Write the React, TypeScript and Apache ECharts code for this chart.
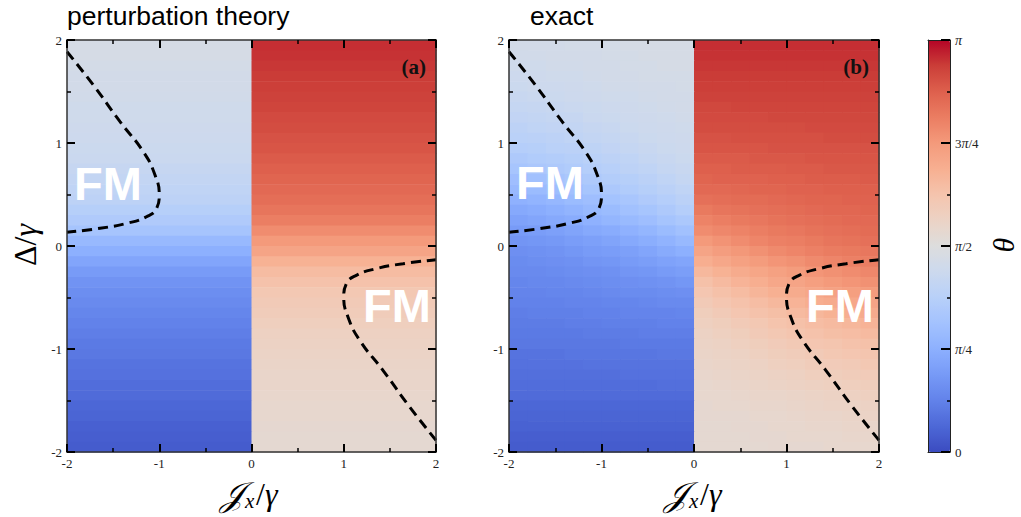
import React, { useEffect, useRef } from "react";
import * as echarts from "echarts";

// theta / pi, rows from top (y centre 1.95) to bottom (y centre -1.95)
const pertLeft = [
  0.47, 0.47, 0.465, 0.46, 0.46, 0.455, 0.45, 0.45, 0.445, 0.44,
  0.435, 0.43, 0.42, 0.41, 0.4, 0.39, 0.37, 0.35, 0.32, 0.28,
  0.25, 0.22, 0.19, 0.17, 0.155, 0.145, 0.135, 0.125, 0.115, 0.105,
  0.1, 0.09, 0.085, 0.075, 0.07, 0.06, 0.055, 0.045, 0.04, 0.035,
];
const pertRight = [
  0.955, 0.95, 0.945, 0.94, 0.935, 0.93, 0.925, 0.915, 0.91, 0.9,
  0.895, 0.885, 0.875, 0.865, 0.855, 0.845, 0.83, 0.81, 0.78, 0.75,
  0.72, 0.68, 0.65, 0.63, 0.61, 0.6, 0.59, 0.58, 0.57, 0.565,
  0.56, 0.555, 0.55, 0.55, 0.545, 0.54, 0.54, 0.535, 0.53, 0.53,
];
// exact: rows top->bottom, columns x from -2 to 0 (left) and 0 to 2 (right)
const exactLeft = [
  [0.46, 0.46, 0.46, 0.465, 0.465, 0.465, 0.47, 0.47, 0.47, 0.47],
  [0.455, 0.455, 0.46, 0.46, 0.46, 0.465, 0.465, 0.47, 0.47, 0.47],
  [0.45, 0.45, 0.455, 0.455, 0.46, 0.46, 0.465, 0.465, 0.47, 0.47],
  [0.44, 0.445, 0.45, 0.45, 0.455, 0.46, 0.46, 0.465, 0.465, 0.465],
  [0.435, 0.44, 0.44, 0.445, 0.45, 0.455, 0.455, 0.46, 0.46, 0.465],
  [0.425, 0.43, 0.435, 0.44, 0.445, 0.45, 0.45, 0.455, 0.46, 0.46],
  [0.415, 0.42, 0.425, 0.43, 0.435, 0.44, 0.445, 0.45, 0.455, 0.46],
  [0.405, 0.41, 0.415, 0.42, 0.43, 0.435, 0.44, 0.445, 0.45, 0.455],
  [0.39, 0.4, 0.405, 0.41, 0.42, 0.425, 0.435, 0.44, 0.445, 0.45],
  [0.38, 0.385, 0.39, 0.4, 0.41, 0.415, 0.425, 0.435, 0.44, 0.445],
  [0.365, 0.37, 0.38, 0.385, 0.395, 0.405, 0.415, 0.425, 0.435, 0.44],
  [0.345, 0.355, 0.36, 0.37, 0.38, 0.39, 0.4, 0.415, 0.425, 0.435],
  [0.325, 0.335, 0.345, 0.355, 0.365, 0.375, 0.39, 0.4, 0.415, 0.425],
  [0.3, 0.31, 0.32, 0.335, 0.345, 0.36, 0.37, 0.385, 0.4, 0.415],
  [0.28, 0.29, 0.3, 0.31, 0.325, 0.34, 0.355, 0.37, 0.385, 0.4],
  [0.255, 0.265, 0.275, 0.29, 0.3, 0.315, 0.33, 0.35, 0.365, 0.385],
  [0.23, 0.24, 0.25, 0.265, 0.28, 0.29, 0.31, 0.325, 0.345, 0.365],
  [0.21, 0.22, 0.23, 0.24, 0.255, 0.27, 0.285, 0.3, 0.32, 0.34],
  [0.19, 0.195, 0.205, 0.215, 0.23, 0.24, 0.255, 0.27, 0.29, 0.31],
  [0.175, 0.18, 0.185, 0.195, 0.205, 0.215, 0.23, 0.245, 0.26, 0.28],
  [0.16, 0.165, 0.17, 0.18, 0.19, 0.195, 0.205, 0.22, 0.235, 0.25],
  [0.15, 0.155, 0.16, 0.165, 0.175, 0.18, 0.19, 0.2, 0.21, 0.22],
  [0.145, 0.145, 0.15, 0.155, 0.16, 0.165, 0.175, 0.18, 0.19, 0.2],
  [0.135, 0.14, 0.14, 0.145, 0.15, 0.155, 0.16, 0.165, 0.17, 0.18],
  [0.13, 0.13, 0.135, 0.135, 0.14, 0.145, 0.15, 0.15, 0.155, 0.16],
  [0.125, 0.125, 0.125, 0.13, 0.13, 0.135, 0.135, 0.14, 0.145, 0.145],
  [0.115, 0.12, 0.12, 0.12, 0.125, 0.125, 0.13, 0.13, 0.13, 0.135],
  [0.11, 0.11, 0.11, 0.115, 0.115, 0.12, 0.12, 0.12, 0.125, 0.125],
  [0.105, 0.105, 0.105, 0.105, 0.11, 0.11, 0.11, 0.115, 0.115, 0.115],
  [0.1, 0.1, 0.1, 0.1, 0.1, 0.1, 0.105, 0.105, 0.105, 0.105],
  [0.09, 0.09, 0.09, 0.095, 0.095, 0.095, 0.095, 0.095, 0.1, 0.1],
  [0.085, 0.085, 0.085, 0.085, 0.09, 0.09, 0.09, 0.09, 0.09, 0.09],
  [0.08, 0.08, 0.08, 0.08, 0.08, 0.08, 0.085, 0.085, 0.085, 0.085],
  [0.075, 0.075, 0.075, 0.075, 0.075, 0.075, 0.075, 0.075, 0.08, 0.08],
  [0.07, 0.07, 0.07, 0.07, 0.07, 0.07, 0.07, 0.07, 0.07, 0.07],
  [0.06, 0.06, 0.06, 0.06, 0.06, 0.06, 0.06, 0.06, 0.06, 0.06],
  [0.055, 0.055, 0.055, 0.055, 0.055, 0.055, 0.055, 0.055, 0.055, 0.055],
  [0.05, 0.05, 0.05, 0.05, 0.05, 0.05, 0.05, 0.05, 0.05, 0.05],
  [0.04, 0.04, 0.04, 0.04, 0.04, 0.04, 0.04, 0.04, 0.04, 0.04],
  [0.035, 0.035, 0.035, 0.035, 0.035, 0.035, 0.035, 0.035, 0.035, 0.035],
];
const exactRight = [
  [0.955, 0.955, 0.955, 0.955, 0.955, 0.955, 0.955, 0.955, 0.955, 0.955],
  [0.95, 0.95, 0.95, 0.95, 0.95, 0.95, 0.95, 0.95, 0.95, 0.95],
  [0.945, 0.945, 0.945, 0.945, 0.945, 0.945, 0.945, 0.945, 0.945, 0.945],
  [0.94, 0.94, 0.94, 0.94, 0.94, 0.94, 0.94, 0.94, 0.94, 0.94],
  [0.935, 0.935, 0.935, 0.935, 0.935, 0.935, 0.935, 0.935, 0.935, 0.935],
  [0.93, 0.93, 0.93, 0.93, 0.93, 0.93, 0.93, 0.93, 0.93, 0.93],
  [0.92, 0.92, 0.925, 0.925, 0.925, 0.925, 0.925, 0.925, 0.925, 0.925],
  [0.915, 0.915, 0.915, 0.915, 0.92, 0.92, 0.92, 0.92, 0.92, 0.92],
  [0.91, 0.91, 0.91, 0.91, 0.91, 0.91, 0.915, 0.915, 0.915, 0.915],
  [0.9, 0.9, 0.905, 0.905, 0.905, 0.905, 0.905, 0.91, 0.91, 0.91],
  [0.895, 0.895, 0.895, 0.895, 0.9, 0.9, 0.9, 0.9, 0.9, 0.9],
  [0.885, 0.885, 0.885, 0.89, 0.89, 0.89, 0.895, 0.895, 0.895, 0.895],
  [0.875, 0.875, 0.88, 0.88, 0.88, 0.885, 0.885, 0.89, 0.89, 0.89],
  [0.865, 0.87, 0.87, 0.87, 0.875, 0.875, 0.88, 0.88, 0.88, 0.885],
  [0.855, 0.855, 0.86, 0.865, 0.865, 0.87, 0.87, 0.875, 0.875, 0.875],
  [0.84, 0.845, 0.85, 0.85, 0.855, 0.86, 0.865, 0.865, 0.87, 0.87],
  [0.82, 0.83, 0.835, 0.84, 0.845, 0.85, 0.855, 0.86, 0.86, 0.865],
  [0.8, 0.81, 0.82, 0.825, 0.835, 0.84, 0.845, 0.85, 0.855, 0.855],
  [0.78, 0.79, 0.8, 0.81, 0.82, 0.825, 0.835, 0.84, 0.845, 0.85],
  [0.75, 0.765, 0.78, 0.795, 0.805, 0.81, 0.82, 0.83, 0.835, 0.84],
  [0.72, 0.74, 0.755, 0.77, 0.785, 0.795, 0.805, 0.815, 0.82, 0.825],
  [0.69, 0.71, 0.73, 0.745, 0.76, 0.77, 0.785, 0.795, 0.805, 0.81],
  [0.66, 0.68, 0.7, 0.715, 0.73, 0.745, 0.76, 0.77, 0.78, 0.79],
  [0.635, 0.655, 0.675, 0.69, 0.71, 0.72, 0.735, 0.75, 0.76, 0.77],
  [0.615, 0.635, 0.65, 0.67, 0.685, 0.7, 0.71, 0.725, 0.735, 0.745],
  [0.6, 0.615, 0.63, 0.645, 0.66, 0.675, 0.69, 0.7, 0.71, 0.72],
  [0.585, 0.6, 0.615, 0.63, 0.64, 0.655, 0.665, 0.68, 0.69, 0.7],
  [0.575, 0.585, 0.6, 0.61, 0.625, 0.635, 0.645, 0.655, 0.665, 0.675],
  [0.565, 0.575, 0.585, 0.6, 0.61, 0.62, 0.63, 0.64, 0.645, 0.655],
  [0.56, 0.565, 0.575, 0.585, 0.595, 0.605, 0.615, 0.62, 0.63, 0.635],
  [0.555, 0.56, 0.565, 0.575, 0.585, 0.59, 0.6, 0.61, 0.615, 0.62],
  [0.55, 0.555, 0.56, 0.565, 0.575, 0.58, 0.59, 0.595, 0.6, 0.61],
  [0.545, 0.55, 0.555, 0.56, 0.565, 0.57, 0.58, 0.585, 0.59, 0.595],
  [0.54, 0.545, 0.55, 0.555, 0.56, 0.565, 0.57, 0.575, 0.58, 0.585],
  [0.54, 0.54, 0.545, 0.55, 0.55, 0.555, 0.56, 0.565, 0.57, 0.575],
  [0.535, 0.54, 0.54, 0.545, 0.545, 0.55, 0.555, 0.56, 0.56, 0.565],
  [0.535, 0.535, 0.535, 0.54, 0.54, 0.545, 0.55, 0.55, 0.555, 0.56],
  [0.53, 0.53, 0.535, 0.535, 0.54, 0.54, 0.545, 0.545, 0.55, 0.55],
  [0.53, 0.53, 0.53, 0.535, 0.535, 0.54, 0.54, 0.54, 0.545, 0.545],
  [0.53, 0.53, 0.53, 0.53, 0.535, 0.535, 0.535, 0.54, 0.54, 0.54],
];

// phase boundary (dashed) curves, [J_x/gamma, Delta/gamma]
const boundaryLeft = [
  [-2, 1.886], [-1.715, 1.563], [-1.425, 1.207], [-1.173, 0.915], [-1.046, 0.689],
  [-1.0, 0.495], [-1.028, 0.366], [-1.136, 0.285], [-1.353, 0.22], [-1.642, 0.172], [-2, 0.133],
];
const boundaryRight = [
  [2, -1.886], [1.715, -1.563], [1.425, -1.207], [1.173, -0.915], [1.046, -0.689],
  [1.0, -0.495], [1.028, -0.366], [1.136, -0.285], [1.353, -0.22], [1.642, -0.172], [2, -0.133],
];

const axisTicks = [-2, -1, 0, 1, 2];
const cbarLabels: Record<string, string> = {
  "0": "0",
  "0.25": "{i|π}/4",
  "0.5": "{i|π}/2",
  "0.75": "3{i|π}/4",
  "1": "{i|π}",
};

const coolwarm = [
  "#3b4cc0", "#4d68d7", "#6282ea", "#779af7", "#8db0fe", "#a3c2fe", "#b8d0f9", "#ccd9ee",
  "#dddddd", "#ecd3c5", "#f5c4ad", "#f7af91", "#f49a7b", "#eb7d62", "#de604d", "#cb3e38", "#b40426",
];

const NROW = 40;
const ROWH = 0.1;
const COLW = 0.2;

function buildPert() {
  const out: number[][] = [];
  for (let i = 0; i < NROW; i++) {
    const y1 = 2 - ROWH * i;
    const y0 = y1 - ROWH;
    out.push([-2, 0, y0, y1, pertLeft[i]]);
    out.push([0, 2, y0, y1, pertRight[i]]);
  }
  return out;
}
function buildExact() {
  const out: number[][] = [];
  for (let i = 0; i < NROW; i++) {
    const y1 = 2 - ROWH * i;
    const y0 = y1 - ROWH;
    exactLeft[i].forEach((v, j) => {
      const x0 = -2 + COLW * j;
      out.push([x0, x0 + COLW, y0, y1, v]);
    });
    exactRight[i].forEach((v, j) => {
      const x0 = COLW * j;
      out.push([x0, x0 + COLW, y0, y1, v]);
    });
  }
  return out;
}

const SERIF = "'Liberation Serif', 'DejaVu Serif', serif";
const SANS = "'Liberation Sans', Arial, Helvetica, sans-serif";

function mainAxis(gridIndex: number, pos: string, labels: boolean) {
  return {
    gridIndex,
    type: "value",
    position: pos,
    min: -2,
    max: 2,
    interval: 1,
    z: 10,
    axisLine: { show: true, onZero: false, lineStyle: { color: "#333", width: 1.5 } },
    axisTick: { show: true, inside: true, length: 8, lineStyle: { color: "#000", width: 2 } },
    minorTick: { show: true, splitNumber: 2, length: 4, lineStyle: { color: "#000", width: 1.5 } },
    axisLabel: {
      show: labels,
      fontFamily: SERIF,
      fontSize: 13,
      color: "#222",
      margin: 5,
      formatter: (v: number) => (axisTicks.includes(v) ? String(v) : ""),
    },
    splitLine: { show: false },
  };
}

function frameAxis(gridIndex: number, pos: string) {
  return {
    gridIndex,
    type: "value",
    position: pos,
    min: 0,
    max: 1,
    z: 10,
    axisLine: { show: true, onZero: false, lineStyle: { color: "#222", width: 1 } },
    axisTick: { show: false },
    axisLabel: { show: false },
    splitLine: { show: false },
  };
}

const renderCell = (params: any, api: any) => {
  const p0 = api.coord([api.value(0), api.value(3)]);
  const p1 = api.coord([api.value(1), api.value(2)]);
  return {
    type: "rect",
    shape: { x: p0[0], y: p0[1], width: p1[0] - p0[0] + 0.6, height: p1[1] - p0[1] + 0.6 },
    style: { fill: api.visual("color") },
  };
};

function dashed(xi: number, data: number[][]) {
  return {
    type: "line",
    xAxisIndex: xi,
    yAxisIndex: xi,
    data,
    showSymbol: false,
    symbol: "none",
    smooth: true,
    z: 5,
    lineStyle: { color: "#000", width: 3, type: [10, 6] },
    silent: true,
  };
}

function fmText(x: number, y: number) {
  return {
    type: "text",
    x,
    y,
    z: 20,
    style: {
      text: "FM",
      fill: "#fff",
      fontFamily: SANS,
      fontWeight: "bold",
      fontSize: 47,
      align: "center",
      verticalAlign: "middle",
    },
  };
}

function jxLabel(cx: number) {
  return {
    type: "group",
    x: cx,
    y: 494,
    z: 20,
    children: [
      {
        type: "text",
        x: -31,
        y: 0,
        style: { text: "𝒥", fontFamily: SERIF, fontSize: 34, fontStyle: "italic", fill: "#000", align: "left", verticalAlign: "middle" },
      },
      {
        type: "text",
        x: -6,
        y: 7,
        style: { text: "x", fontFamily: SERIF, fontSize: 21, fontStyle: "italic", fill: "#000", align: "left", verticalAlign: "middle" },
      },
      {
        type: "text",
        x: 5,
        y: 0,
        style: {
          text: "{a|/}{b|γ}",
          align: "left",
          verticalAlign: "middle",
          rich: {
            a: { fontFamily: SERIF, fontSize: 32, fill: "#000" },
            b: { fontFamily: SERIF, fontSize: 32, fontStyle: "italic", fill: "#000" },
          },
        },
      },
    ],
  };
}

export default function App() {
  const ref = useRef<HTMLDivElement>(null);
  useEffect(() => {
    if (!ref.current) return;
    const chart = echarts.init(ref.current, null, { renderer: "svg" });
    const option: any = {
      animation: false,
      backgroundColor: "#fff",
      grid: [
        { left: 67, top: 40, width: 369, height: 412 },
        { left: 509, top: 40, width: 370, height: 412 },
        { left: 928, top: 40, width: 22, height: 412 },
      ],
      xAxis: [
        mainAxis(0, "bottom", true),
        mainAxis(0, "top", false),
        mainAxis(1, "bottom", true),
        mainAxis(1, "top", false),
        frameAxis(2, "bottom"),
        frameAxis(2, "top"),
      ],
      yAxis: [
        mainAxis(0, "left", true),
        mainAxis(0, "right", false),
        mainAxis(1, "left", true),
        mainAxis(1, "right", false),
        frameAxis(2, "left"),
        {
          gridIndex: 2,
          type: "value",
          position: "right",
          min: 0,
          max: 1,
          interval: 0.25,
          z: 10,
          axisLine: { show: true, onZero: false, lineStyle: { color: "#222", width: 1 } },
          axisTick: { show: true, inside: true, length: 9, lineStyle: { color: "#000", width: 2 } },
          minorTick: { show: true, splitNumber: 2, length: 3, lineStyle: { color: "#000", width: 1.5 } },
          axisLabel: {
            show: true,
            fontFamily: SERIF,
            fontSize: 13,
            color: "#222",
            margin: 5,
            formatter: (v: number) => cbarLabels[String(v)] ?? "",
            rich: { i: { fontFamily: SERIF, fontStyle: "italic", fontSize: 14, color: "#222" } },
          },
          splitLine: { show: false },
        },
      ],
      visualMap: {
        type: "continuous",
        min: 0,
        max: 1,
        dimension: 4,
        seriesIndex: [0, 1],
        inRange: { color: coolwarm },
        show: true,
        orient: "vertical",
        left: 928,
        top: 40,
        padding: 0,
        itemWidth: 22,
        itemHeight: 412,
        calculable: false,
        hoverLink: false,
        realtime: false,
        textStyle: { color: "transparent" },
      },
      series: [
        {
          type: "custom",
          xAxisIndex: 0,
          yAxisIndex: 0,
          data: buildPert(),
          encode: { x: [0, 1], y: [2, 3] },
          renderItem: renderCell,
          z: 1,
          silent: true,
        },
        {
          type: "custom",
          xAxisIndex: 2,
          yAxisIndex: 2,
          data: buildExact(),
          encode: { x: [0, 1], y: [2, 3] },
          renderItem: renderCell,
          z: 1,
          silent: true,
        },
        dashed(0, boundaryLeft),
        dashed(0, boundaryRight),
        dashed(2, boundaryLeft),
        dashed(2, boundaryRight),
      ],
      graphic: [
        {
          type: "text",
          x: 67,
          y: 16,
          style: { text: "perturbation theory", fontFamily: SANS, fontSize: 26.5, fill: "#000", verticalAlign: "middle" },
        },
        {
          type: "text",
          x: 530,
          y: 16,
          style: { text: "exact", fontFamily: SANS, fontSize: 26.5, fill: "#000", verticalAlign: "middle" },
        },
        {
          type: "text",
          x: 426,
          y: 67,
          z: 20,
          style: { text: "(a)", fontFamily: SERIF, fontWeight: "bold", fontSize: 21, fill: "#111", align: "right", verticalAlign: "middle" },
        },
        {
          type: "text",
          x: 869,
          y: 67,
          z: 20,
          style: { text: "(b)", fontFamily: SERIF, fontWeight: "bold", fontSize: 21, fill: "#111", align: "right", verticalAlign: "middle" },
        },
        fmText(108, 183),
        fmText(397, 305),
        fmText(550, 182),
        fmText(840, 305),
        {
          type: "text",
          x: 25,
          y: 245,
          rotation: Math.PI / 2,
          style: {
            text: "{a|Δ/}{b|γ}",
            align: "center",
            verticalAlign: "middle",
            rich: {
              a: { fontFamily: SERIF, fontSize: 32, fill: "#000" },
              b: { fontFamily: SERIF, fontSize: 32, fontStyle: "italic", fill: "#000" },
            },
          },
        },
        jxLabel(251),
        jxLabel(695),
        {
          type: "text",
          x: 1003,
          y: 245,
          rotation: Math.PI / 2,
          style: { text: "θ", fontFamily: SERIF, fontStyle: "italic", fontSize: 30, fill: "#000", align: "center", verticalAlign: "middle" },
        },
      ],
    };
    chart.setOption(option);
    return () => chart.dispose();
  }, []);
  return <div ref={ref} style={{ position: "absolute", left: 0, top: 0, width: 1021, height: 517 }} />;
}
